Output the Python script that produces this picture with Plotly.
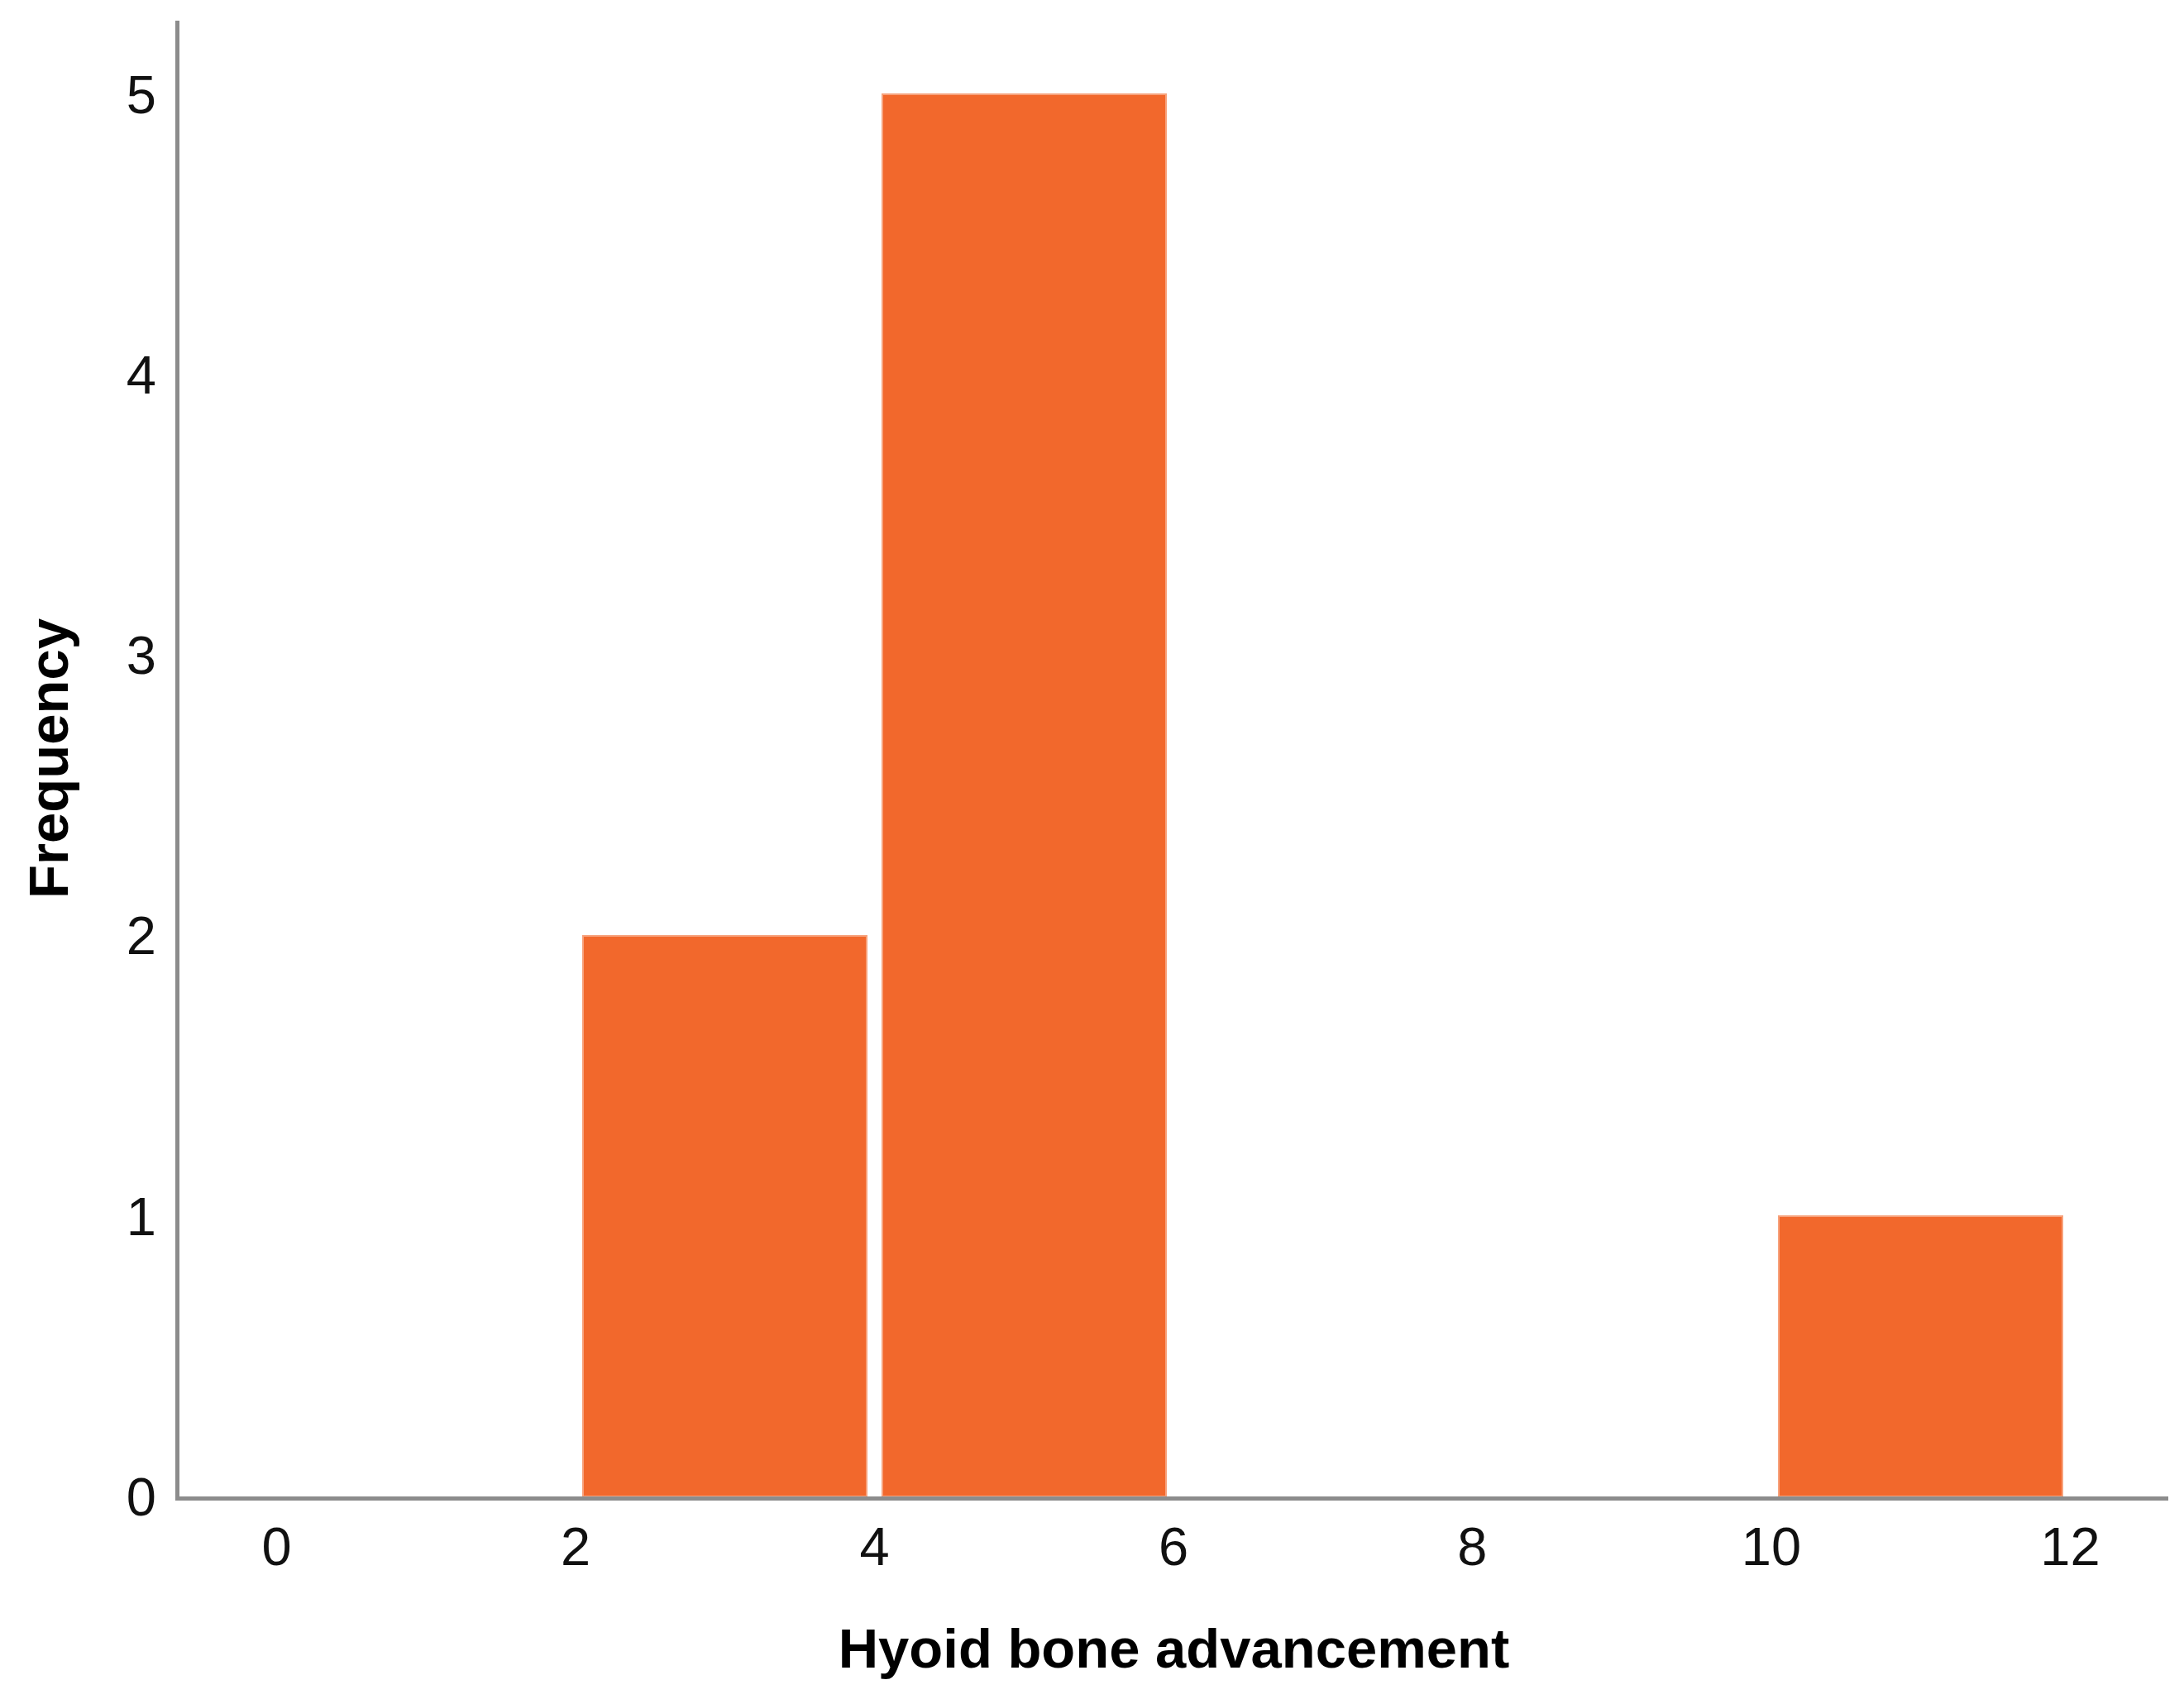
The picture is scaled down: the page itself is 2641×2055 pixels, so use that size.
import plotly.graph_objects as go

# histogram bins (width 2) and their counts
bin_centers = [1, 3, 5, 7, 9, 11]
counts = [0, 2, 5, 0, 0, 1]
x_ticks = [0, 2, 4, 6, 8, 10, 12]
y_ticks = [0, 1, 2, 3, 4, 5]

bar_color = '#F2682C'
axis_color = '#8c8c8c'
tick_font = dict(family='Liberation Sans Narrow, Arial Narrow, Liberation Sans, sans-serif',
                 size=65, color='#111111')
title_font = dict(family='Liberation Sans, Arial, sans-serif', size=67, color='#000000', weight='bold')

# empty bins get no outline so nothing is drawn at zero
edge_widths = [2 if c > 0 else 0 for c in counts]

fig = go.Figure()

fig.add_trace(go.Bar(
    x=bin_centers,
    y=counts,
    width=1.9,
    marker=dict(color=bar_color, line=dict(color='#F7A27C', width=edge_widths)),
    showlegend=False,
    hoverinfo='x+y'
))

fig.update_xaxes(
    range=[-0.65, 12.656],
    tickmode='array',
    tickvals=x_ticks,
    ticktext=[str(v) for v in x_ticks],
    tickfont=tick_font,
    ticks='',
    ticklabelstandoff=0,
    showgrid=False,
    zeroline=False,
    showline=True,
    linecolor=axis_color,
    linewidth=5,
    title=dict(text='Hyoid bone advancement', font=title_font, standoff=66)
)

fig.update_yaxes(
    range=[0, 5.262],
    tickmode='array',
    tickvals=y_ticks,
    ticktext=[str(v) for v in y_ticks],
    tickfont=tick_font,
    ticks='',
    ticklabelstandoff=10,
    showgrid=False,
    zeroline=False,
    showline=True,
    linecolor=axis_color,
    linewidth=5,
    title=dict(text='Frequency', font=title_font, standoff=50)
)

# page body adds a small offset, so margins are shifted to compensate
fig.update_layout(
    width=2641,
    height=2055,
    margin=dict(l=209, r=27, t=17, b=253, autoexpand=False),
    plot_bgcolor='white',
    paper_bgcolor='white',
    bargap=0
)

fig.write_html("out.html")
